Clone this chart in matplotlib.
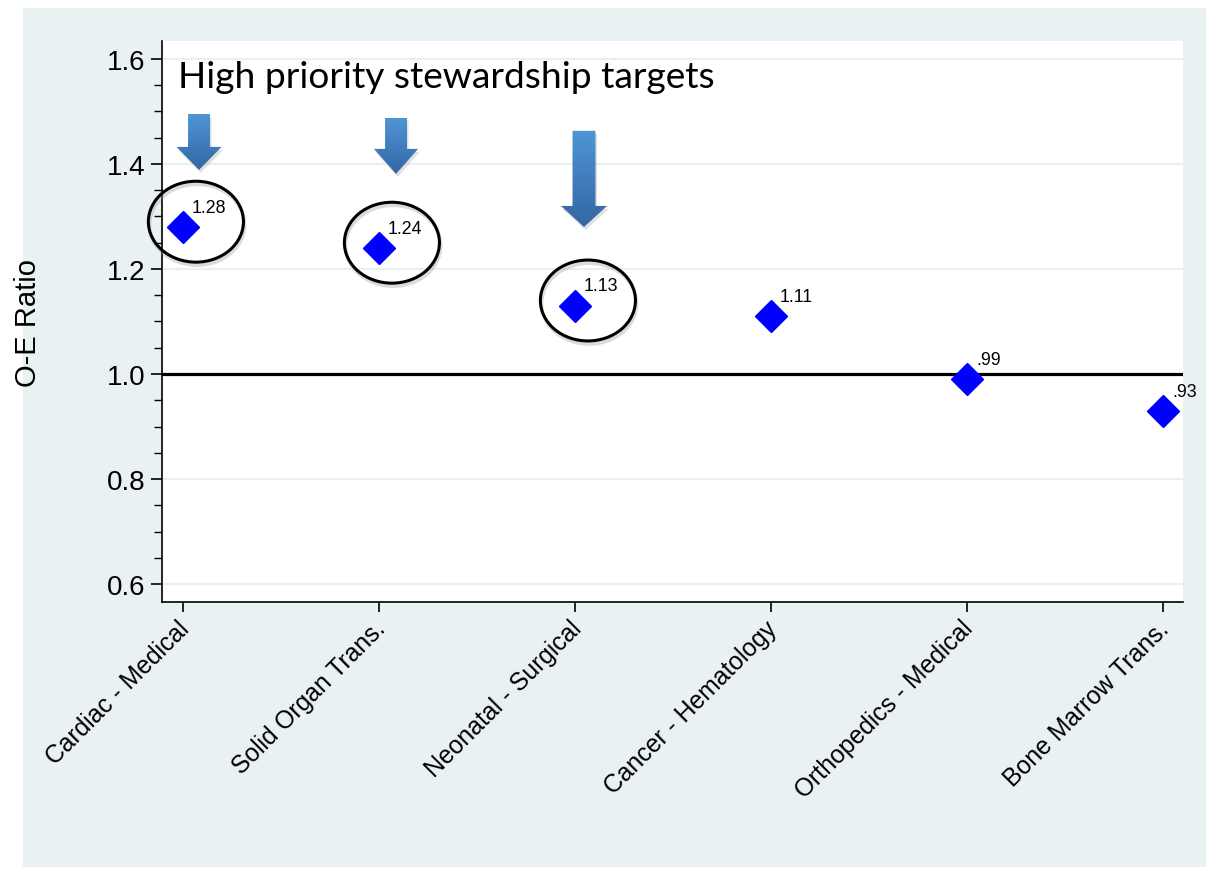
import numpy as np
import matplotlib
matplotlib.use("Agg")
import matplotlib.pyplot as plt
from matplotlib.patches import Ellipse, Polygon, Rectangle
from matplotlib.colors import LinearSegmentedColormap
import matplotlib.transforms as mtransforms

# ---- data ----
categories = ["Cardiac - Medical", "Solid Organ Trans.", "Neonatal - Surgical",
              "Cancer - Hematology", "Orthopedics - Medical", "Bone Marrow Trans."]
oe_ratio = [1.28, 1.24, 1.13, 1.11, 0.99, 0.93]
value_labels = ["1.28", "1.24", "1.13", "1.11", ".99", ".93"]
highlighted = [0, 1, 2]
y_ticks = [0.6, 0.8, 1.0, 1.2, 1.4, 1.6]
y_tick_labels = ["0.6", "0.8", "1.0", "1.2", "1.4", "1.6"]
reference_value = 1.0
title_text = "High priority stewardship targets"
y_label = "O-E Ratio"

plt.rcParams['font.family'] = ['Liberation Sans', 'DejaVu Sans']

W, H = 1206, 870
fig = plt.figure(figsize=(W / 100, H / 100), dpi=100, facecolor='white')
bg = '#e9f1f3'
fig.patches.append(Rectangle((23 / W, 2 / H), 1 - 23 / W, (868 - 9) / H,
                             transform=fig.transFigure, facecolor=bg,
                             edgecolor='none', zorder=-10))

ax = fig.add_axes([162 / W, (H - 603) / H, (1183 - 162) / W, (603 - 42) / H])
ax.set_facecolor('white')

x = np.arange(len(categories))

# grid + reference line
for yt in y_ticks:
    if yt != reference_value:
        ax.axhline(yt, color='#e8f0f2', lw=1.6, zorder=0)
ax.axhline(reference_value, color='black', lw=2.3, zorder=1)

# markers
ax.plot(x, oe_ratio, linestyle='none', marker='D', markersize=16.5,
        color='#0000ff', markeredgecolor='#0000ff', zorder=5)

for xi, yi, lab in zip(x, oe_ratio, value_labels):
    ax.annotate(lab, (xi, yi), xytext=(6.5, 11.0), textcoords='offset points',
                ha='left', va='baseline', fontsize=12.8, color='black', zorder=6)

ax.set_xlim(-0.107, 5.102)
ax.set_ylim(0.566, 1.634)

# ellipses around highlighted points (offset in data units)
ell_dx, ell_dy = 0.066, 0.01
ell_w, ell_h = 0.485, 0.154
for i in highlighted:
    sh = Ellipse((x[i] + ell_dx + 0.006, oe_ratio[i] + ell_dy - 0.006), ell_w, ell_h,
                 facecolor='none', edgecolor='#9a9a9a', lw=2.5, alpha=0.35, zorder=3,
                 clip_on=False)
    ax.add_patch(sh)
    e = Ellipse((x[i] + ell_dx, oe_ratio[i] + ell_dy), ell_w, ell_h,
                facecolor='none', edgecolor='black', lw=2.2, zorder=4, clip_on=False)
    ax.add_patch(e)

# gradient block arrows (layout: center x, tip y, top y, shaft w, head w, head len)
arrow_layout = [
    (0.082, 1.3886, 1.495, 0.112, 0.230, 0.0438),
    (1.087, 1.3810, 1.4876, 0.112, 0.225, 0.0476),
    (2.046, 1.2800, 1.463, 0.117, 0.235, 0.0400),
]
cmap = LinearSegmentedColormap.from_list('arr', ['#3466a4', '#4f95d6'])
for cx, tip, top, sw, hw, hl in arrow_layout:
    verts = [(cx - sw / 2, top), (cx + sw / 2, top), (cx + sw / 2, tip + hl),
             (cx + hw / 2, tip + hl), (cx, tip), (cx - hw / 2, tip + hl),
             (cx - sw / 2, tip + hl)]
    shadow_verts = [(vx + 0.008, vy - 0.006) for vx, vy in verts]
    ax.add_patch(Polygon(shadow_verts, closed=True, facecolor='#888888',
                         edgecolor='none', alpha=0.25, zorder=2))
    poly = Polygon(verts, closed=True, facecolor='none', edgecolor='none', zorder=3)
    ax.add_patch(poly)
    grad = np.linspace(1, 0, 100).reshape(-1, 1)
    im = ax.imshow(grad, extent=(cx - hw / 2, cx + hw / 2, tip, top), aspect='auto',
                   cmap=cmap, origin='upper', zorder=3, interpolation='bilinear')
    im.set_clip_path(poly)

ax.set_xlim(-0.107, 5.102)
ax.set_ylim(0.566, 1.634)

# ticks
ax.set_yticks(y_ticks)
ax.set_yticklabels(y_tick_labels, fontsize=20)
ax.set_yticks(np.arange(0.6, 1.61, 0.05), minor=True)
ax.tick_params(axis='y', which='major', direction='out', length=8, width=1.2, pad=4)
ax.tick_params(axis='y', which='minor', direction='out', length=5.5, width=1.0)
ax.set_xticks(x)
ax.set_xticklabels(categories, rotation=45, ha='right', va='top',
                   rotation_mode='anchor', fontsize=17.8)
ax.tick_params(axis='x', direction='out', length=7, width=1.2, pad=3)
offset = mtransforms.ScaledTranslation(-6 / 100, 0, fig.dpi_scale_trans)
for lbl in ax.get_xticklabels():
    lbl.set_transform(lbl.get_transform() + offset)

for s in ['top', 'right']:
    ax.spines[s].set_visible(False)
for s in ['left', 'bottom']:
    ax.spines[s].set_linewidth(1.2)

ax.set_ylabel(y_label, fontsize=21)
ax.yaxis.set_label_coords(-0.118, 0.500)

ax.text(0.0157, 0.918, title_text, transform=ax.transAxes, ha='left', va='baseline',
        fontsize=26.7, family=['Lato', 'DejaVu Sans'], zorder=6)

fig.savefig('out.png', dpi=100, facecolor='white')
